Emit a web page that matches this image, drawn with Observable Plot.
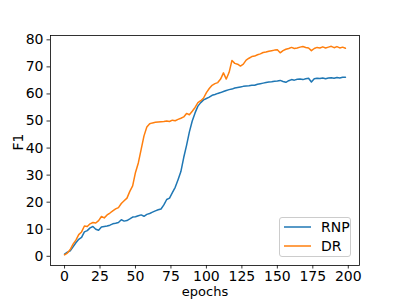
<!DOCTYPE html>
<html><head><meta charset="utf-8">
<script src="https://cdn.jsdelivr.net/npm/d3@7"></script>
<script src="https://cdn.jsdelivr.net/npm/@observablehq/plot@0.6"></script>
<style>
body{margin:0;background:#fff;}
#c{position:relative;width:399px;height:299px;overflow:hidden;font-family:"DejaVu Sans",sans-serif;}
#legend{position:absolute;left:279px;top:217px;width:72px;height:40px;border:1px solid #cccccc;border-radius:3px;background:rgba(255,255,255,0.8);box-sizing:border-box;}
</style>
</head><body><div id="c"></div>
<script>
const epochs = d3.range(0, 200, 2);
const rnp = [0.8,1.5,2.0,3.5,5.0,6.3,7.0,9.0,9.5,10.5,
  11.0,10.0,9.6,10.8,11.0,11.2,11.5,12.0,12.2,12.5,
  13.5,13.0,13.2,13.8,14.5,14.6,15.0,15.3,14.8,15.5,
  15.8,16.3,16.8,17.2,17.5,19.0,21.0,21.5,23.5,25.5,
  28.3,31.3,36.5,41.0,46.0,50.0,53.0,55.5,56.8,57.8,
  58.3,58.8,59.5,59.8,60.2,60.5,60.9,61.3,61.6,61.8,
  62.2,62.4,62.6,62.8,62.9,63.0,63.2,63.2,63.6,63.8,
  64.0,64.2,64.4,64.5,64.7,64.8,65.0,64.6,64.3,64.9,
  65.3,65.1,65.4,65.5,65.3,65.6,65.8,64.4,65.6,65.8,
  65.7,65.9,65.6,65.9,66.0,65.8,66.1,65.9,66.2,66.2];
const dr = [0.5,1.2,2.5,4.5,6.0,8.0,9.0,11.2,11.0,12.0,
  12.5,12.3,13.2,14.7,14.2,15.3,16.0,16.8,17.5,18.0,
  19.5,20.5,21.5,24.0,26.0,31.0,34.5,39.5,44.5,47.8,
  49.0,49.3,49.5,49.6,49.7,49.8,50.0,49.8,50.3,50.1,
  50.6,51.0,51.5,52.8,52.3,53.6,55.0,56.8,57.5,58.5,
  60.5,62.0,63.2,63.8,64.2,65.5,67.8,65.5,68.0,72.4,
  71.3,71.0,70.3,71.0,72.5,73.2,73.8,74.0,74.5,74.8,
  75.3,75.5,75.8,76.0,76.2,76.3,75.2,76.0,76.5,76.8,
  77.2,76.8,77.0,77.3,77.5,77.2,77.0,76.0,76.8,77.2,
  77.0,77.4,77.0,77.3,77.6,77.1,77.5,77.0,77.3,76.9];
const seriesNames = ["RNP", "DR"];
const seriesColors = ["#1f77b4", "#ff7f0e"];
const xTicks = [0, 25, 50, 75, 100, 125, 150, 175, 200];
const yTicks = [0, 10, 20, 30, 40, 50, 60, 70, 80];
const xLabel = "epochs";
const yLabel = "F1";

const data = [];
[rnp, dr].forEach((vals, i) => vals.forEach((v, j) => data.push({epoch: epochs[j], value: v, series: seriesNames[i]})));

const chart = Plot.plot({
  width: 399, height: 299,
  marginLeft: 50, marginRight: 40, marginTop: 35, marginBottom: 34,
  style: {fontFamily: "DejaVu Sans", fontSize: "14px", background: "white", color: "black"},
  x: {domain: [-9.9, 207.9]},
  y: {domain: [-3.4, 81.6]},
  color: {domain: seriesNames, range: seriesColors},
  marks: [
    Plot.line(data, {x: "epoch", y: "value", stroke: "series", z: "series", strokeWidth: 1.5}),
    Plot.frame({stroke: "black", strokeWidth: 0.8}),
    Plot.axisX({ticks: xTicks, tickSize: 3.5, tickPadding: 2, label: null, fontSize: 14, strokeWidth: 0.8}),
    Plot.axisY({ticks: yTicks, tickSize: 3.5, tickPadding: 3.5, label: null, fontSize: 14, strokeWidth: 0.8}),
    Plot.text([xLabel], {frameAnchor: "bottom", text: d => d, dy: 21.5, lineAnchor: "top", fontSize: 13, fill: "black"}),
    Plot.text([yLabel], {frameAnchor: "left", text: d => d, dx: -28, rotate: -90, lineAnchor: "bottom", fontSize: 14, fill: "black"})
  ]
});
const c = document.getElementById("c");
c.appendChild(chart);

const legend = d3.select(c).append("div").attr("id", "legend");
const lsvg = legend.append("svg").attr("width", 72).attr("height", 40).style("position", "absolute").style("left", "-1px").style("top", "-1px");
seriesNames.forEach((name, i) => {
  const y = 10 + i * 19;
  lsvg.append("line").attr("x1", 5).attr("x2", 32).attr("y1", y).attr("y2", y)
    .attr("stroke", seriesColors[i]).attr("stroke-width", 1.5);
  lsvg.append("text").attr("x", 42).attr("y", y).attr("dy", "0.35em")
    .attr("font-family", "DejaVu Sans").attr("font-size", 14).attr("fill", "black").text(name);
});
</script>
</body></html>
